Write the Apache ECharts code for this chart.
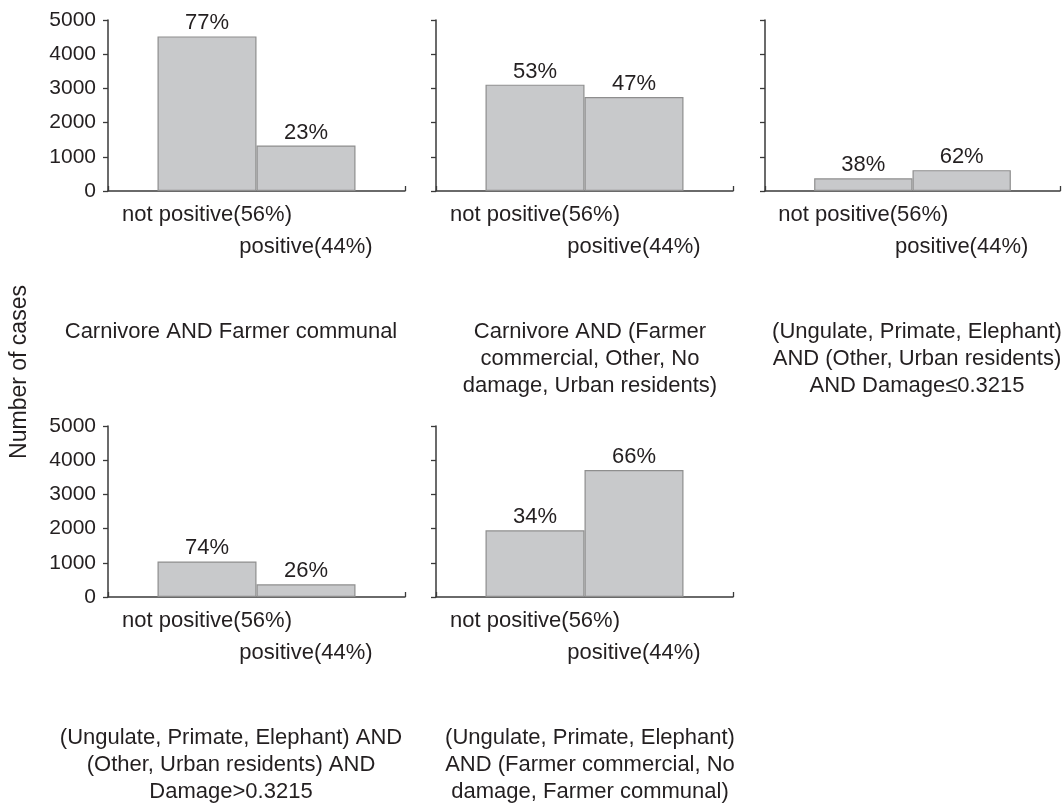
<!DOCTYPE html>
<html><head><meta charset="utf-8">
<script src="https://cdn.jsdelivr.net/npm/echarts@6/dist/echarts.min.js"></script>
<style>html,body{margin:0;padding:0;background:#fff}#c{width:1063px;height:809px}</style>
</head><body><div id="c"></div>
<script>
const categories = ['not positive(56%)', 'positive(44%)'];
const yTicks = [0, 1000, 2000, 3000, 4000, 5000];
const panelTitles = [
  'Carnivore AND Farmer communal',
  'Carnivore AND (Farmer\ncommercial, Other, No\ndamage, Urban residents)',
  '(Ungulate, Primate, Elephant)\nAND (Other, Urban residents)\nAND Damage\u22640.3215',
  '(Ungulate, Primate, Elephant) AND\n(Other, Urban residents) AND\nDamage>0.3215',
  '(Ungulate, Primate, Elephant)\nAND (Farmer commercial, No\ndamage, Farmer communal)'
];
const casesP1 = [4520, 1330];
const casesP2 = [3110, 2750];
const casesP3 = [370, 610];
const casesP4 = [1040, 370];
const casesP5 = [1950, 3710];
const pctP1 = ['77%', '23%'];
const pctP2 = ['53%', '47%'];
const pctP3 = ['38%', '62%'];
const pctP4 = ['74%', '26%'];
const pctP5 = ['34%', '66%'];
const yTitle = 'Number of cases';

const values = [casesP1, casesP2, casesP3, casesP4, casesP5];
const pcts = [pctP1, pctP2, pctP3, pctP4, pctP5];

const FONT = '"Liberation Sans", Arial, sans-serif';
const TXT = '#231f20';
const AX = '#3a3a3a';
const layout = [
  {left: 108, top: 20, showY: true, tx: 226},
  {left: 436, top: 20, showY: false, tx: 585},
  {left: 765, top: 20, showY: false, tx: 912},
  {left: 108, top: 426, showY: true, tx: 226},
  {left: 436, top: 426, showY: false, tx: 585}
];
const W = 297, H = 171;
const axisCats = [''].concat(categories, ['']);

const grids = [], xAxes = [], yAxes = [], series = [], titles = [];
layout.forEach((p, i) => {
  grids.push({left: p.left, top: p.top, width: W, height: H, containLabel: false});
  xAxes.push({
    type: 'category', gridIndex: i, data: axisCats, boundaryGap: false,
    axisLine: {show: true, lineStyle: {color: AX, width: 1.5}},
    axisTick: {show: true, inside: true, length: 5, interval: 0, lineStyle: {color: AX, width: 1.3}},
    axisLabel: {
      interval: 0, margin: 8, color: TXT, fontFamily: FONT, fontSize: 22, lineHeight: 32,
      formatter: (v, idx) => idx === 2 ? '\n' + v : v
    },
    splitLine: {show: false}
  });
  yAxes.push({
    type: 'value', gridIndex: i, min: yTicks[0], max: yTicks[yTicks.length - 1], interval: yTicks[1] - yTicks[0],
    axisLine: {show: true, lineStyle: {color: AX, width: 1.5}},
    axisTick: {show: true, inside: false, length: 5, lineStyle: {color: AX, width: 1.3}},
    axisLabel: {show: p.showY, margin: 12, color: TXT, fontFamily: FONT, fontSize: 21,
      formatter: (v) => String(v)},
    splitLine: {show: false}
  });
  series.push({
    type: 'bar', xAxisIndex: i, yAxisIndex: i,
    data: ['-'].concat(values[i], ['-']),
    barWidth: '100%', barGap: '0%',
    itemStyle: {color: '#c8c9cb', borderColor: '#8e8e8e', borderWidth: 1.2},
    label: {
      show: true, position: 'top', distance: 2, color: TXT, fontFamily: FONT, fontSize: 22,
      formatter: (prm) => pcts[i][prm.dataIndex - 1]
    },
    silent: true, animation: false
  });
  titles.push({
    text: panelTitles[i], left: p.tx, top: p.top + 293, textAlign: 'center',
    textStyle: {color: TXT, fontFamily: FONT, fontSize: 22, fontWeight: 'normal', lineHeight: 27}
  });
});

const chart = echarts.init(document.getElementById('c'), null, {renderer: 'canvas'});
chart.setOption({
  animation: false,
  backgroundColor: '#fff',
  title: titles,
  grid: grids, xAxis: xAxes, yAxis: yAxes, series: series,
  graphic: [{
    type: 'text', x: 20, y: 372, rotation: Math.PI / 2,
    style: {text: yTitle, fill: TXT, font: '23px ' + FONT, textAlign: 'center', textVerticalAlign: 'middle'}
  }]
});
</script></body></html>
